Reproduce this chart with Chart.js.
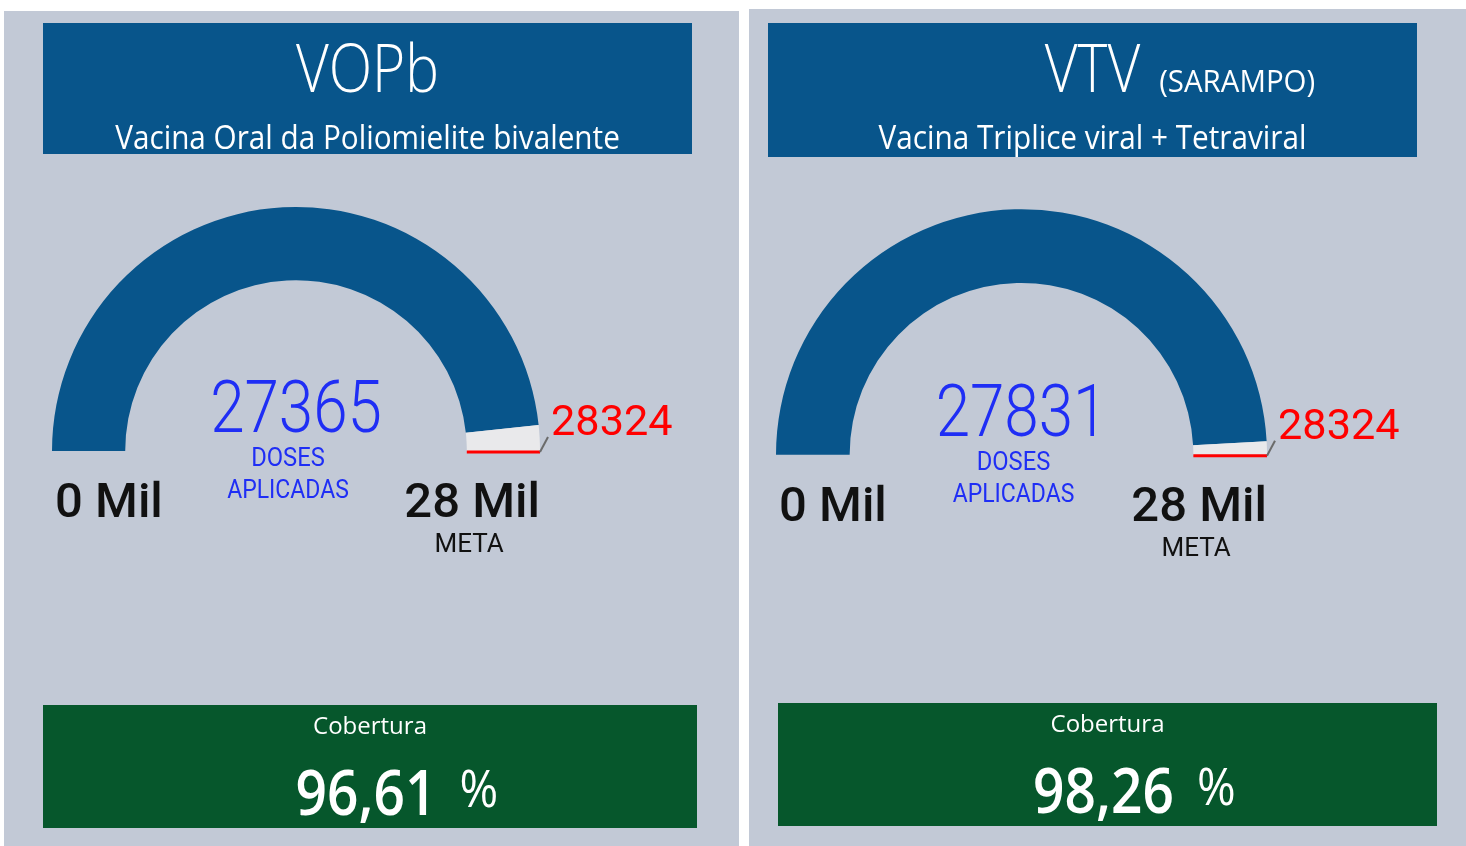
<!DOCTYPE html>
<html lang="pt-BR">
<head>
<meta charset="utf-8">
<title>Doses aplicadas - VOPb e VTV</title>
<script src="https://cdn.jsdelivr.net/npm/chart.js@4.4.1/dist/chart.umd.min.js"></script>
<style>
  html, body { margin: 0; padding: 0; background: #fff; }
  body { position: relative; width: 1466px; height: 846px; overflow: hidden; }
  .painel { position: absolute; background: #c2c9d6; }
  .painel canvas { display: block; }
</style>
</head>
<body>
<div class="painel" style="left:4px;top:11px;width:735px;height:835px"><canvas id="g0" width="735" height="835"></canvas></div>
<div class="painel" style="left:749px;top:9px;width:717px;height:837px"><canvas id="g1" width="717" height="837"></canvas></div>
<script>
const vacinas = ['VOPb', 'VTV'];
const observacoes = ['', '(SARAMPO)'];
const descricoes = ['Vacina Oral da Poliomielite bivalente', 'Vacina Triplice viral + Tetraviral'];
const dosesAplicadas = [27365, 27831];
const metas = [28324, 28324];
const rotuloDoses = ['DOSES', 'APLICADAS'];
const rotuloMeta = 'META';
const rotuloCobertura = 'Cobertura';

// card layout in canvas pixels
const cartoes = [
  { padding: { left: 48, right: 199, top: 196, bottom: 395 },
    cabecalho: { x: 39, y: 12, w: 649, h: 131 },
    rodape: { x: 39, y: 694, w: 654, h: 123 } },
  { padding: { left: 27, right: 199, top: 200, bottom: 391 },
    cabecalho: { x: 19, y: 14, w: 649, h: 134 },
    rodape: { x: 29, y: 694, w: 659, h: 123 } }
];

const AZUL = '#08558b';
const VERDE = '#06572c';
const CINZA_ARCO = '#e9e9eb';
const AZUL_TEXTO = '#1f2ef5';

// draws text squeezed horizontally by sx, returns left/right edges
function texto(ctx, str, x, y, font, cor, align, sx) {
  ctx.save();
  ctx.font = font;
  ctx.fillStyle = cor;
  ctx.textBaseline = 'alphabetic';
  ctx.textAlign = 'left';
  const w = ctx.measureText(str).width * sx;
  const x0 = align === 'center' ? x - w / 2 : (align === 'right' ? x - w : x);
  ctx.translate(x0, y);
  ctx.scale(sx, 1);
  ctx.fillText(str, 0, 0);
  ctx.restore();
  return { esq: x0, dir: x0 + w };
}

function milhares(v) {
  return Math.round(v / 1000) + ' Mil';
}

const cartaoPlugin = {
  id: 'cartao',
  afterDatasetsDraw(chart, args, opts) {
    const ctx = chart.ctx;
    const i = opts.indice;
    const meta = chart.getDatasetMeta(0);
    const arco = meta.data[0];
    const { x: cx, y: cy, outerRadius: R, innerRadius: ri } =
      arco.getProps(['x', 'y', 'outerRadius', 'innerRadius'], true);

    // target marker at the end of the scale
    const ang = meta.data[1].endAngle;
    const cos = Math.cos(ang), sin = Math.sin(ang);
    ctx.save();
    ctx.strokeStyle = '#ff0000';
    ctx.lineWidth = 3;
    ctx.beginPath();
    ctx.moveTo(cx + cos * ri, cy + sin * ri + 1);
    ctx.lineTo(cx + cos * R, cy + sin * R + 1);
    ctx.stroke();
    // leader line to the target label
    const px = cx + cos * R, py = cy + sin * R + 1;
    ctx.strokeStyle = '#6b6b6b';
    ctx.lineWidth = 2;
    ctx.beginPath();
    ctx.moveTo(px, py);
    ctx.lineTo(px + 8, py - 15);
    ctx.stroke();
    ctx.restore();
    texto(ctx, String(metas[i]), px + 11, cy - 16, "400 42px Roboto", '#ff0000', 'left', 1.03);

    // value in the middle
    texto(ctx, String(dosesAplicadas[i]), cx, cy - 19, "300 72px Roboto", AZUL_TEXTO, 'center', 0.86);
    texto(ctx, rotuloDoses[0], cx - 8, cy + 15, "400 25px Roboto", AZUL_TEXTO, 'center', 0.95);
    texto(ctx, rotuloDoses[1], cx - 8, cy + 47, "400 25px Roboto", AZUL_TEXTO, 'center', 0.92);

    // scale ends
    texto(ctx, milhares(0), cx - R + 3, cy + 66, "500 49px Roboto", '#111', 'left', 1);
    const fim = texto(ctx, milhares(metas[i]), cx + R, cy + 66, "500 49px Roboto", '#111', 'right', 1);
    texto(ctx, rotuloMeta, (fim.esq + fim.dir) / 2 - 3, cy + 101, "400 26px Roboto", '#111', 'center', 1);
  },
  beforeDraw(chart, args, opts) {
    const ctx = chart.ctx;
    const i = opts.indice;
    const c = cartoes[i];
    const h = c.cabecalho, r = c.rodape;

    // header
    ctx.fillStyle = AZUL;
    ctx.fillRect(h.x, h.y, h.w, h.h);
    const hx = h.x + h.w / 2;
    const tit = texto(ctx, vacinas[i], hx, h.y + 69, "300 66px 'Open Sans'", '#fff', 'center', 0.86);
    if (observacoes[i]) {
      texto(ctx, observacoes[i], tit.dir + 19, h.y + 69, "400 31px 'Open Sans'", '#fff', 'left', 0.95);
    }
    texto(ctx, descricoes[i], hx, h.y + 126, "400 33px 'Open Sans'", '#fff', 'center', 0.9);

    // coverage box
    ctx.fillStyle = VERDE;
    ctx.fillRect(r.x, r.y, r.w, r.h);
    const rx = r.x + r.w / 2;
    texto(ctx, rotuloCobertura, rx, r.y + 29, "400 24px 'Open Sans'", '#fff', 'center', 1.0);
    const pct = (dosesAplicadas[i] / metas[i] * 100).toFixed(2).replace('.', ',');
    const num = texto(ctx, pct, rx - 4, r.y + 110, "600 64px 'Open Sans'", '#fff', 'center', 0.86);
    texto(ctx, '%', num.dir + 23, r.y + 102, "400 52px 'Open Sans'", '#fff', 'left', 0.9);
  }
};

vacinas.forEach(function (nome, i) {
  const ctx = document.getElementById('g' + i);
  new Chart(ctx, {
    type: 'doughnut',
    data: {
      labels: ['Doses aplicadas', 'Restante'],
      datasets: [{
        data: [dosesAplicadas[i], metas[i] - dosesAplicadas[i]],
        backgroundColor: [AZUL, CINZA_ARCO],
        borderWidth: 0,
        hoverOffset: 0
      }]
    },
    options: {
      responsive: false,
      animation: false,
      devicePixelRatio: 1,
      rotation: -90,
      circumference: 180,
      cutout: '70%',
      layout: { padding: cartoes[i].padding },
      events: [],
      plugins: {
        legend: { display: false },
        tooltip: { enabled: false },
        cartao: { indice: i }
      }
    },
    plugins: [cartaoPlugin]
  });
});
</script>
</body>
</html>
